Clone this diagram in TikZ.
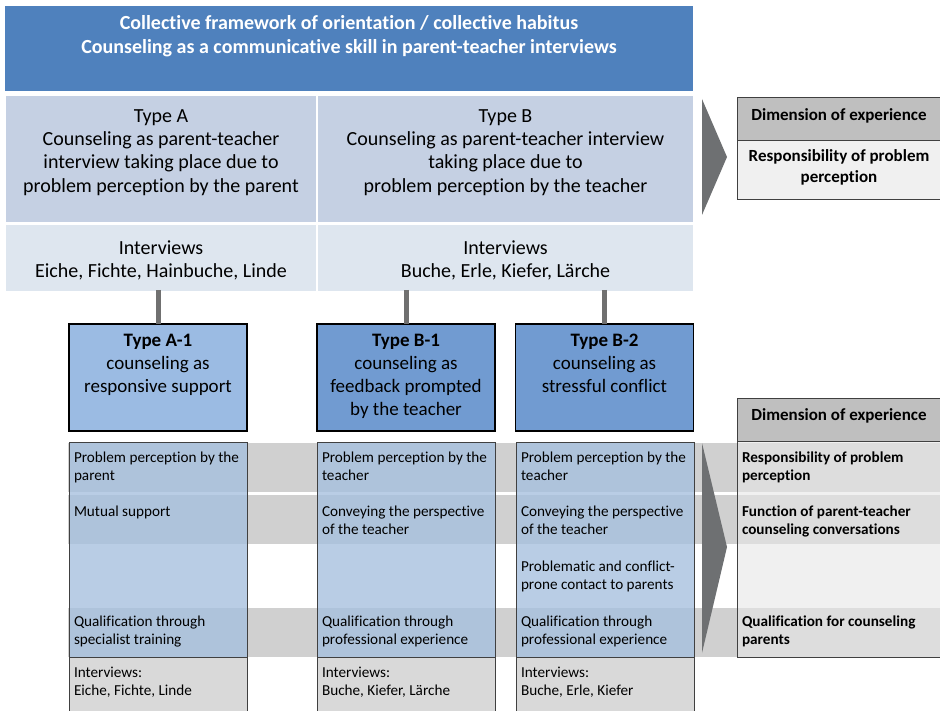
\documentclass[tikz,border=0pt]{standalone}
\usepackage{fontspec}
\setmainfont{Carlito}[Ligatures=NoCommon]
\definecolor{hdr}{RGB}{79,129,189}
\definecolor{typerow}{RGB}{197,208,227}
\definecolor{introw}{RGB}{222,230,239}
\definecolor{aone}{RGB}{155,187,227}
\definecolor{bone}{RGB}{113,155,209}
\definecolor{band}{RGB}{208,208,208}
\definecolor{colfill}{RGB}{166,192,222}
\definecolor{intbox}{RGB}{217,217,217}
\definecolor{dimhead}{RGB}{191,191,191}
\definecolor{dimbody}{RGB}{240,240,240}
\definecolor{dimbodyt}{RGB}{230,230,230}
\definecolor{chev}{RGB}{110,112,114}
\definecolor{conn}{RGB}{112,112,112}
\definecolor{edge}{RGB}{64,64,64}
\begin{document}
\begin{tikzpicture}[x=1pt,y=-1pt,
  every node/.style={inner sep=0pt, outer sep=0pt},
  plain/.style={rectangle, minimum width=#1},
  bigtxt/.style={align=center, anchor=north, font=\fontsize{20}{23.3}\selectfont},
  hdrtxt/.style={align=center, anchor=north, text=white, font=\bfseries\fontsize{20}{24}\selectfont},
  subtypebox/.style={rectangle, draw=black, line width=1.5pt, minimum width=178, minimum height=107},
  subtxt/.style={align=center, anchor=north, font=\fontsize{19}{23}\selectfont},
  colbox/.style={rectangle, fill=colfill, fill opacity=0.79, draw=edge, draw opacity=1, line width=1pt, minimum width=178, minimum height=215},
  intcell/.style={rectangle, fill=intbox, draw=edge, line width=1pt, minimum width=178, minimum height=56},
  smalltxt/.style={align=left, anchor=north west, font=\fontsize{15.2}{18}\selectfont},
  dimtxt/.style={align=left, anchor=north west, font=\bfseries\fontsize{15.2}{18}\selectfont},
  dimhdtxt/.style={align=center, anchor=north, font=\bfseries\fontsize{17}{21}\selectfont},
  bandbox/.style={rectangle, fill=band, minimum width=873, minimum height=49},
  connector/.style={draw=conn, line width=5pt},
  chevron/.style={fill=chev}
]
\useasboundingbox (0,0) rectangle (940,711);

% header
\node[plain=688, fill=hdr, minimum height=85] (header) at (349,48.5) {};
\node[hdrtxt] (headertxt) at (349,15.5) {Collective framework of orientation / collective habitus\\Counseling as a communicative skill in parent-teacher interviews};

% type row
\node[plain=310, fill=typerow, minimum height=126] (typeA) at (161,159) {};
\node[bigtxt] (typeAtxt) at (161,109.5) {Type A\\Counseling as parent-teacher\\interview taking place due to\\problem perception by the parent};
\node[plain=375, fill=typerow, minimum height=126] (typeB) at (505.5,159) {};
\node[bigtxt] (typeBtxt) at (505.5,109.5) {Type B\\Counseling as parent-teacher interview\\taking place due to\\problem perception by the teacher};

% interviews row
\node[plain=310, fill=introw, minimum height=66] (intA) at (161,258) {};
\node[bigtxt] (intAtxt) at (161,240.5) {Interviews\\Eiche, Fichte, Hainbuche, Linde};
\node[plain=375, fill=introw, minimum height=66] (intB) at (505.5,258) {};
\node[bigtxt] (intBtxt) at (505.5,240.5) {Interviews\\Buche, Erle, Kiefer, Lärche};

% sub types
\node[subtypebox, fill=aone] (aone) at (158,377.5) {};
\node[subtxt] (aonetxt) at (158,334.5) {\textbf{Type A-1}\\counseling as\\responsive support};
\node[subtypebox, fill=bone] (bone) at (406,377.5) {};
\node[subtxt] (bonetxt) at (406,334.5) {\textbf{Type B-1}\\counseling as\\feedback prompted\\by the teacher};
\node[subtypebox, fill=bone] (btwo) at (604.5,377.5) {};
\node[subtxt] (btwotxt) at (604.5,334.5) {\textbf{Type B-2}\\counseling as\\stressful conflict};

% connectors
\draw[connector] ([yshift=1pt]intA.south -| aone.north) -- (aone.north);
\draw[connector] ([yshift=1pt]intB.south -| bone.north) -- (bone.north);
\draw[connector] ([yshift=1pt]intB.south -| btwo.north) -- (btwo.north);

% bands
\node[bandbox] (band1) at (504.5,467.5) {};
\node[bandbox] (band2) at (504.5,519.5) {};
\node[bandbox] (band4) at (504.5,632.5) {};

% columns
\node[colbox] (colA) at (158,549.5) {};
\node[colbox] (colB) at (406,549.5) {};
\node[colbox] (colC) at (605,549.5) {};
\node[intcell] (icA) at (158,685) {};
\node[intcell] (icB) at (406,685) {};
\node[intcell] (icC) at (605,685) {};

% dimension boxes
\node[rectangle, fill=dimhead, draw=edge, line width=1pt, minimum width=204, minimum height=43] (dimtophead) at (839,119.5) {};
\node[rectangle, fill=dimbody, draw=edge, line width=1pt, minimum width=204, minimum height=59] (dimtopbody) at (839,170.5) {};
\node[dimhdtxt] (dimtopheadtxt) at (839,108.5) {Dimension of experience};
\node[dimhdtxt] (dimtopbodytxt) at (839,149.5) {Responsibility of problem\\perception};

\node[rectangle, fill=dimhead, draw=edge, line width=1pt, minimum width=204, minimum height=43] (dimbothead) at (839,419.5) {};
\node[rectangle, fill=dimbodyt, fill opacity=0.6, draw=edge, draw opacity=1, line width=1pt, minimum width=204, minimum height=216] (dimbotbody) at (839,549) {};
\node[dimhdtxt] (dimbotheadtxt) at (839,408.5) {Dimension of experience};

% chevrons
\fill[chevron] (702,99) -- (727,157) -- (702,215) -- cycle;
\fill[chevron] (702,443) -- (727,547) -- (702,653) -- cycle;

% column texts
\node[smalltxt] (a1) at (74,451.5) {Problem perception by the\\parent};
\node[smalltxt] (a2) at (74,505.5) {Mutual support};
\node[smalltxt] (a4) at (74,615.5) {Qualification through\\specialist training};
\node[smalltxt] (a5) at (74,667.5) {Interviews:\\Eiche, Fichte, Linde};

\node[smalltxt] (b1) at (322,451.5) {Problem perception by the\\teacher};
\node[smalltxt] (b2) at (322,505.5) {Conveying the perspective\\of the teacher};
\node[smalltxt] (b4) at (322,615.5) {Qualification through\\professional experience};
\node[smalltxt] (b5) at (322,667.5) {Interviews:\\Buche, Kiefer, Lärche};

\node[smalltxt] (c1) at (521,451.5) {Problem perception by the\\teacher};
\node[smalltxt] (c2) at (521,505.5) {Conveying the perspective\\of the teacher};
\node[smalltxt] (c3) at (521,560.5) {Problematic and conflict-\\prone contact to parents};
\node[smalltxt] (c4) at (521,615.5) {Qualification through\\professional experience};
\node[smalltxt] (c5) at (521,667.5) {Interviews:\\Buche, Erle, Kiefer};

\node[dimtxt] (d1) at (742,451.5) {Responsibility of problem\\perception};
\node[dimtxt] (d2) at (742,505.5) {Function of parent-teacher\\counseling conversations};
\node[dimtxt] (d4) at (742,615.5) {Qualification for counseling\\parents};
\end{tikzpicture}
\end{document}
